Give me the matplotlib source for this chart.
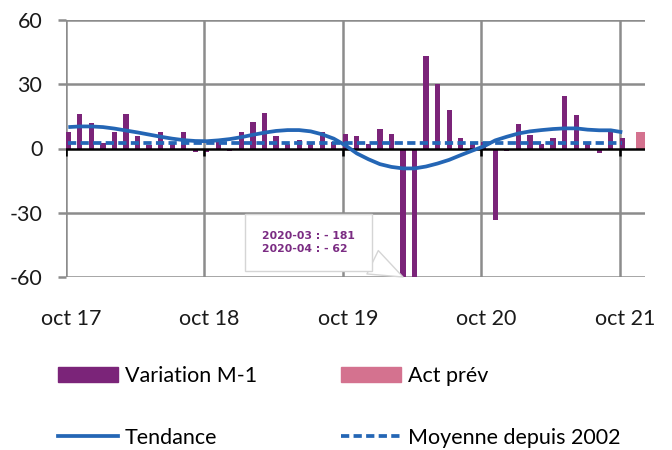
import matplotlib
matplotlib.use("Agg")
import matplotlib.pyplot as plt
from matplotlib.patches import Patch
from matplotlib.lines import Line2D

# ---------------- data ----------------
# monthly index 0 = oct 2017 ... 48 = oct 2021
variation = [7.5, 16, 12, 2.5, 7.5, 16, 6, 1.5, 7.5, 3, 7.5, -1.5,
             -1.5, 3, -1.2, 7.5, 12.5, 16.5, 6, 2, 4.2, 2, 7.5, 3,
             6.7, 5.7, 2, 9.3, 6.7, -181, -62, 43.4, 30.2, 17.8, 5.1, 2,
             3, -33.4, -1.3, 11.6, 6.2, 2, 5, 24.3, 15.8, 2, -2, 9.3,
             5]
tendance = [10, 10.3, 10.3, 10, 9.3, 8.4, 7.5, 6.5, 5.5, 4.6, 3.9, 3.5,
            3.4, 3.8, 4.4, 5.3, 6.4, 7.4, 8.2, 8.6, 8.6, 8.0, 6.6, 4.6,
            1.5, -2.3, -5.0, -7.3, -8.6, -9.3, -9.3, -8.4, -7.0, -5.3, -3.1, -1.0,
            1.0, 3.8, 5.5, 7.0, 8.0, 8.6, 9.1, 9.4, 9.4, 8.8, 8.5, 8.5,
            7.6]
moyenne = 2.7                 # moyenne depuis 2002
act_prev_month = 49           # nov 21
act_prev_value = 7.8
year_months = [0, 12, 24, 36, 48]
year_labels = ["oct 17", "oct 18", "oct 19", "oct 20", "oct 21"]
annot_text = "2020-03 : - 181\n2020-04 : - 62"
annot_month = 29

# ---------------- style ----------------
plt.rcParams['font.family'] = ['Lato', 'DejaVu Sans']
PURPLE = '#7B2479'
PINK = '#D4728F'
BLUE = '#2466B5'
GRID = '#8C8C8C'
FS = 15.5

fig = plt.figure(figsize=(6.72, 4.5), dpi=100)
ax = fig.add_axes([66/672, 1-277/450, (645-66)/672, (277-20)/450])

months = list(range(len(variation)))
bar_off = 0.2
ax.bar([m + bar_off for m in months], variation, width=0.45, color=PURPLE, zorder=3)
ax.bar([act_prev_month + 0.78], [act_prev_value], width=0.8, color=PINK, zorder=3)

for yv in [-60, -30, 30, 60]:
    ax.axhline(yv, color=GRID, lw=1.8, zorder=1)
for m in year_months:
    ax.axvline(m, color=GRID, lw=1.8, zorder=1)
ax.axhline(0, color='black', lw=1.8, zorder=4)
ax.vlines(year_months, -3.3, 0, color='black', lw=1.8, zorder=4)

ax.plot([m + bar_off for m in months], tendance, color=BLUE, lw=2.7,
        solid_capstyle='butt', zorder=5)
ax.plot([months[0] + bar_off, months[-1] + bar_off], [moyenne, moyenne], color=BLUE,
        lw=2.7, ls=(0, (2.2, 1.15)), dash_capstyle='butt', zorder=5)

ax.set_xlim(0, 50.17)
ax.set_ylim(-60, 60)
for s in ax.spines.values():
    s.set_visible(False)
ax.set_yticks([-60, -30, 0, 30, 60])
ax.set_yticklabels(["-60", "-30", "0", "30", "60"])
ax.tick_params(axis='y', color=GRID, length=6, width=1.8, pad=11,
               labelsize=FS, labelcolor='#1a1a1a')
ax.set_xticks([m + 0.45 for m in year_months])
ax.set_xticklabels(year_labels)
ax.tick_params(axis='x', length=0, pad=23, labelsize=FS, labelcolor='#1a1a1a')

ax.annotate(annot_text, xy=(annot_month + bar_off, -60), xytext=(21.0, -44),
            ha='center', va='center', multialignment='left',
            fontsize=7.8, fontweight='bold', color='#7B2C83',
            family='DejaVu Sans', linespacing=1.35,
            bbox=dict(boxstyle='square,pad=1.6', fc='white', ec='#D5D5D5', lw=1),
            arrowprops=dict(arrowstyle='wedge,tail_width=2.4,shrink_factor=0.5',
                            fc='white', ec='#D5D5D5', lw=1, relpos=(0.86, 0.3),
                            shrinkA=0, shrinkB=0),
            zorder=6, annotation_clip=False)

handles = [Patch(color=PURPLE), Line2D([], [], color=BLUE, lw=2.7),
           Patch(color=PINK), Line2D([], [], color=BLUE, lw=2.7, ls=(0, (2.2, 1.15)))]
labels = ["Variation M-1", "Tendance", "Act prév", "Moyenne depuis 2002"]
fig.legend(handles, labels, loc='upper left', bbox_to_anchor=(58/672, 1-366/450),
           ncol=2, frameon=False, fontsize=FS, handlelength=2.8, handleheight=0.75,
           handletextpad=0.3, columnspacing=3.9, labelspacing=1.95,
           borderaxespad=0, borderpad=0)

fig.savefig("out.png", dpi=100)
